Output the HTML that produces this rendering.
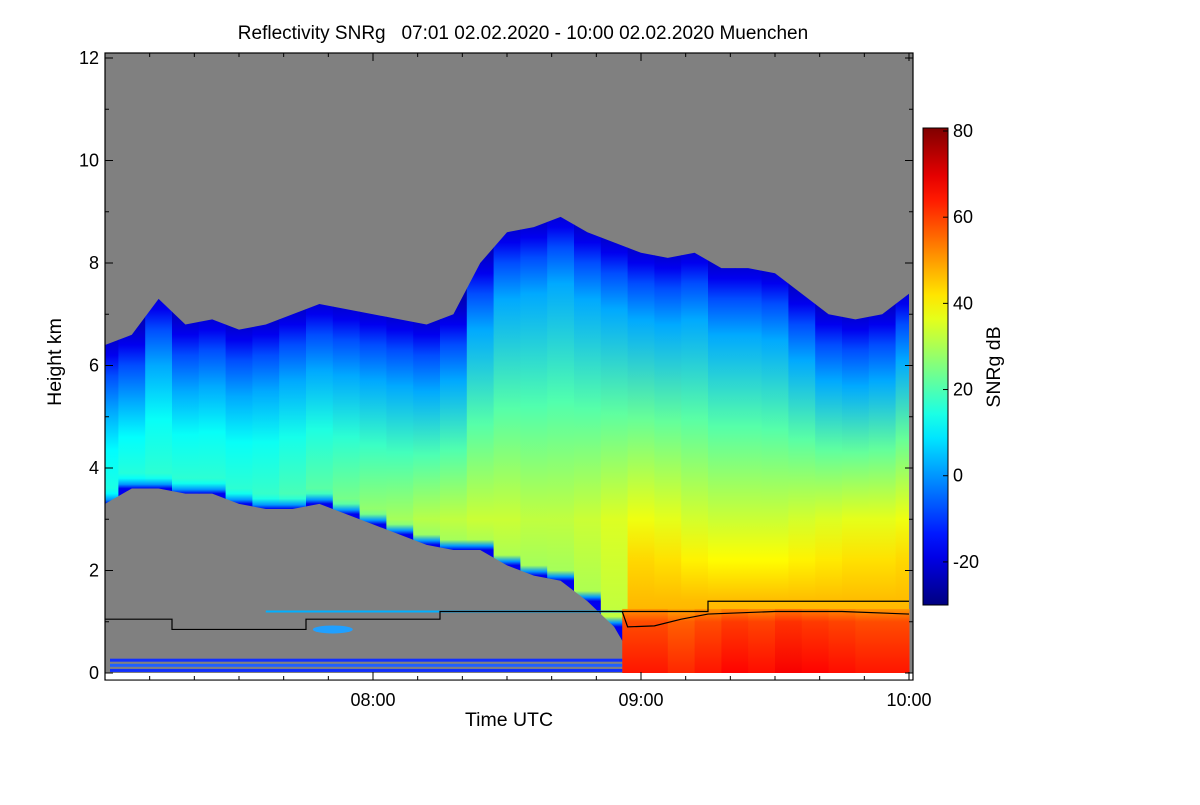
<!DOCTYPE html>
<html><head><meta charset="utf-8"><style>
body{margin:0;background:#fff;width:1200px;height:800px;overflow:hidden}
svg text{font-family:"Liberation Sans",Arial,sans-serif;fill:#000}
</style></head><body>
<svg id="chart" width="1200" height="800" xmlns="http://www.w3.org/2000/svg">
<defs id="defs"></defs>
<g id="plot"></g>
<g id="axes"></g>
</svg>
<script>
// data
const sampleTimes=[7.0,7.1,7.2,7.3,7.4,7.5,7.6,7.7,7.8,7.9,8.0,8.1,8.2,8.3,8.4,8.5,8.6,8.7,8.8,8.9,9.0,9.1,9.2,9.3,9.4,9.5,9.6,9.7,9.8,9.9,10.0];
const topKm=[6.4,6.6,7.3,6.8,6.9,6.7,6.8,7.0,7.2,7.1,7.0,6.9,6.8,7.0,8.0,8.6,8.7,8.9,8.6,8.4,8.2,8.1,8.2,7.9,7.9,7.8,7.4,7.0,6.9,7.0,7.4];
const baseKm=[3.3,3.6,3.6,3.5,3.5,3.3,3.2,3.2,3.3,3.1,2.9,2.7,2.5,2.4,2.4,2.1,1.9,1.8,1.4,0.9,0,0,0,0,0,0,0,0,0,0,0];
const coreDb=[14,15,16,16,16,16,17,19,21,24,27,29,31,32,33,33,32,32,33,35,37,36,34,33,33,33,34,35,36,36,37];
const groundDb=[62,62,60,62,64,63,65,64,63,62,64];
const groundTimes=[8.93,9.0,9.1,9.2,9.3,9.4,9.5,9.6,9.7,9.8,10.0];
const ceilTimes=[7.0,7.25,7.25,7.75,7.75,8.25,8.25,8.93,8.95,9.05,9.15,9.25,9.5,9.75,10.0];
const ceilKm=[1.05,1.05,0.85,0.85,1.05,1.05,1.2,1.2,0.9,0.92,1.05,1.15,1.2,1.2,1.15];
const upperTimes=[8.93,9.25,9.25,10.0];
const upperKm=[1.2,1.2,1.4,1.4];
const yTicks=[0,2,4,6,8,10,12];
const xTickLabels=["08:00","09:00","10:00"];
const xTickVals=[8,9,10];
const cbTicks=[80,60,40,20,0,-20];

const X0=105,X1=913,Y0=673,PXH=268,PXK=51.25;
const xs=t=>X0+(t-7.0)*PXH;
const ys=h=>Y0-h*PXK;
const CBT=131,CBB=605,CBMIN=-30,CBMAX=80;
const cbY=v=>CBB-(v-CBMIN)/(CBMAX-CBMIN)*(CBB-CBT);
function jet(v){let t=Math.max(0,Math.min(1,(v-CBMIN)/(CBMAX-CBMIN)));
 const f=x=>Math.max(0,Math.min(1,x));
 const r=f(Math.min(4*t-1.5,-4*t+4.5)),g=f(Math.min(4*t-0.5,-4*t+3.5)),b=f(Math.min(4*t+0.5,-4*t+2.5));
 return `rgb(${Math.round(r*255)},${Math.round(g*255)},${Math.round(b*255)})`;}
const NS="http://www.w3.org/2000/svg";
const mk=(tag,attrs,parent)=>{const e=document.createElementNS(NS,tag);for(const k in attrs)e.setAttribute(k,attrs[k]);parent.appendChild(e);return e;};
const defs=document.getElementById('defs'),plot=document.getElementById('plot'),axes=document.getElementById('axes');

let bg=mk('rect',{x:X0,y:53,width:X1-X0,height:Y0-53,fill:'#808080'},plot);



const clip=mk('clipPath',{id:'cloudclip'},defs);
let pts=sampleTimes.map((t,i)=>`${xs(t)},${ys(topKm[i])}`);
for(let i=sampleTimes.length-1;i>=0;i--)pts.push(`${xs(sampleTimes[i])},${ys(baseKm[i])}`);
mk('polygon',{points:pts.join(' ')},clip);
const cloud=mk('g',{'clip-path':'url(#cloudclip)'},plot);


sampleTimes.forEach((t,i)=>{
 const gid='cg'+i;const top=topKm[i]+0.3,base=baseKm[i];
 const gr=mk('linearGradient',{id:gid,gradientUnits:'userSpaceOnUse',x1:0,x2:0,y1:ys(top),y2:ys(0)},defs);
 const stop=(h,v)=>{mk('stop',{offset:Math.max(0,Math.min(1,(top-h)/top)),'stop-color':jet(v)},gr);};
 const c=coreDb[i];
 const ref=Math.max(base+0.3,3.0);
 stop(top,-24);stop(topKm[i]-0.2,-18);stop(topKm[i]-0.6,-8);stop(topKm[i]-1.3,2);
 const a=topKm[i]-1.3;
 if(ref<a){stop((a+ref)/2,(2+c)/2+3);}
 stop(ref,c);
 if(base>0){stop(base+0.2,c-3);stop(base+0.08,0);stop(base,-18);}
 else{stop(2.2,c+6);stop(1.4,46);stop(0,50);}
 const x0=i===0?X0:xs((sampleTimes[i-1]+t)/2);
 const x1=i===sampleTimes.length-1?X1:xs((sampleTimes[i+1]+t)/2);
 const r=mk('rect',{x:x0,y:53,width:x1-x0+0.5,height:Y0-53,fill:`url(#${gid})`},cloud);
 
 
});
groundTimes.forEach((t,i)=>{if(i===groundTimes.length-1)return;
 const gid='gg'+i;
 const gr=mk('linearGradient',{id:gid,x1:0,x2:0,y1:0,y2:1},defs);
 mk('stop',{offset:0,'stop-color':jet(groundDb[i]-12)},gr);
 mk('stop',{offset:0.2,'stop-color':jet(groundDb[i]-4)},gr);
 mk('stop',{offset:1,'stop-color':jet(groundDb[i]+2)},gr);
 const r=mk('rect',{x:xs(t),y:ys(1.25),width:xs(groundTimes[i+1])-xs(t)+0.5,height:ys(0)-ys(1.25),fill:`url(#${gid})`},plot);
 
 
});
[[0.25,'#1030ff'],[0.15,'#2060ff'],[0.05,'#1030ff']].forEach(([h,c])=>{
 const r=mk('rect',{x:X0+5,y:ys(h)-1.5,width:xs(8.93)-X0-5,height:3,fill:c},plot);
 
 
});
const ln=mk('rect',{x:xs(7.6),y:ys(1.2)-1,width:xs(8.93)-xs(7.6),height:2,fill:'#00b0ff'},plot);


const blob=mk('ellipse',{cx:xs(7.85),cy:ys(0.85),rx:20,ry:4,fill:'#20a0ff'},plot);


const pl=(tt,kk,name)=>{const p=mk('polyline',{points:tt.map((t,i)=>`${xs(t)},${ys(kk[i])}`).join(' '),fill:'none',stroke:'#000','stroke-width':1.2},plot);
 
 };
pl(ceilTimes,ceilKm,'cloud-base-line');
pl(upperTimes,upperKm,'cloud-base-line-upper');

const fr=mk('rect',{x:X0,y:53,width:X1-X0,height:680-53,fill:'none',stroke:'#000','stroke-width':1.2},axes);


const wg=mk('rect',{x:X0+1,y:674,width:X1-X0-2,height:5.5,fill:'#fff'},axes);


for(let h=0;h<=12;h++){const L=h%2?4:8;
 mk('line',{x1:X0,x2:X0+L,y1:ys(h),y2:ys(h),stroke:'#000'},axes);
 mk('line',{x1:X1,x2:X1-L,y1:ys(h),y2:ys(h),stroke:'#000'},axes);}
yTicks.forEach(v=>{const t=mk('text',{x:99,y:ys(v)+6,'text-anchor':'end','font-size':18},axes);t.textContent=v;
 
 });
for(let m=10;m<=180;m+=10){const t=7+m/60,L=m%60?4:8;
 mk('line',{x1:xs(t),x2:xs(t),y1:680,y2:680-L,stroke:'#000'},axes);
 mk('line',{x1:xs(t),x2:xs(t),y1:53,y2:53+L,stroke:'#000'},axes);}
xTickVals.forEach((v,i)=>{const t=mk('text',{x:xs(v),y:706,'text-anchor':'middle','font-size':18},axes);t.textContent=xTickLabels[i];
 
 });
const T=(x,y,s,txt,name,rot)=>{const t=mk('text',{x,y,'text-anchor':'middle','font-size':s},axes);t.setAttribute('xml:space','preserve');t.style.whiteSpace='pre';if(rot)t.setAttribute('transform',`rotate(-90 ${x} ${y})`);t.textContent=txt;
 
 };
T(523,39,19,'Reflectivity SNRg   07:01 02.02.2020 - 10:00 02.02.2020 Muenchen','chart-title');
T(509,726,19.5,'Time UTC','x-axis-title');
T(61,362,19.5,'Height km','y-axis-title',true);
T(1000,367,19.5,'SNRg dB','colorbar-title',true);
const cg=mk('linearGradient',{id:'cbg',x1:0,x2:0,y1:1,y2:0},defs);
for(let k=0;k<=20;k++){mk('stop',{offset:k/20,'stop-color':jet(CBMIN+k/20*(CBMAX-CBMIN))},cg);}
const cb=mk('rect',{x:923,y:128,width:25,height:CBB-128,fill:'url(#cbg)',stroke:'#000','stroke-width':1},axes);


cbTicks.forEach(v=>{mk('line',{x1:943,x2:948,y1:cbY(v),y2:cbY(v),stroke:'#000'},axes);
 const t=mk('text',{x:953,y:cbY(v)+6,'font-size':18},axes);t.textContent=v;
 
 });
</script>
</body></html>
